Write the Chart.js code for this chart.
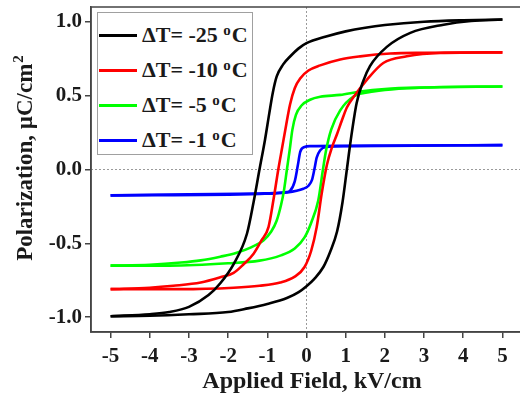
<!DOCTYPE html>
<html>
<head>
<meta charset="utf-8">
<script src="https://cdn.jsdelivr.net/npm/chart.js@4.4.0/dist/chart.umd.min.js"></script>
<style>
html, body { margin: 0; padding: 0; background: #fff; overflow: hidden; }
#wrap { position: relative; width: 522px; height: 403px; }
#legend {
    position: absolute; left: 97px; top: 12px; width: 156px; height: 143px;
    box-sizing: border-box; border: 1px solid #a0a0a0; background: #fff;
    font: bold 22px "Liberation Serif", "Times New Roman", serif; color: #1a1a1a;
}
#legend .row { position: absolute; left: 0; height: 30px; display: flex; align-items: center; white-space: nowrap; }
#legend .swatch { width: 38px; height: 3px; margin-left: 1px; margin-right: 5px; }
#legend .deg { font-size: 15px; position: relative; top: -7px; margin-right: 1px; }
</style>
</head>
<body>
<div id="wrap">
    <canvas id="loopChart"></canvas>
    <div id="legend"></div>
</div>
<script>
// axis ticks
const fieldTicks = [-5, -4, -3, -2, -1, 0, 1, 2, 3, 4, 5];
const polTicks = [-1.0, -0.5, 0.0, 0.5, 1.0];

// series labels / colours
const labels = ['\u0394T= -25 ', '\u0394T= -10 ', '\u0394T= -5 ', '\u0394T= -1 '];
const colors = ['#000000', '#ff0000', '#00ff00', '#0000ff'];

// [field kV/cm, polarization uC/cm2]
// "up" = branch coming down from +5 (left side of loop), "down" = branch going up from -5
const dt25Up = [[-5,-0.993],[-4,-0.98],[-3.5,-0.965],[-3,-0.93],[-2.5,-0.85],[-2.2,-0.77],[-1.86,-0.64],[-1.52,-0.435],[-1.35,-0.22],[-1.2,0.0],[-1.06,0.2],[-0.95,0.38],[-0.86,0.52],[-0.76,0.63],[-0.6,0.71],[-0.4,0.77],[-0.2,0.82],[0,0.855],[0.5,0.9],[1.0,0.935],[1.5,0.96],[2,0.978],[3,1.0],[4,1.01],[5,1.015]];
const dt25Down = [[-5,-0.993],[-4,-0.99],[-3,-0.98],[-2,-0.965],[-1.5,-0.94],[-1,-0.91],[-0.5,-0.87],[-0.2,-0.83],[0,-0.79],[0.2,-0.74],[0.43,-0.66],[0.6,-0.56],[0.78,-0.42],[0.92,-0.22],[1.03,0.0],[1.13,0.2],[1.28,0.45],[1.45,0.6],[1.62,0.7],[2.05,0.83],[2.65,0.925],[3.5,0.98],[4.2,1.005],[5,1.015]];

const dt10Up = [[-5,-0.81],[-4,-0.8],[-3.4,-0.787],[-2.7,-0.765],[-2.2,-0.73],[-1.86,-0.7],[-1.6,-0.64],[-1.35,-0.57],[-1.15,-0.48],[-0.97,-0.39],[-0.84,-0.2],[-0.72,0.0],[-0.62,0.15],[-0.52,0.3],[-0.42,0.44],[-0.3,0.55],[-0.15,0.62],[0.05,0.67],[0.35,0.705],[0.86,0.745],[1.37,0.766],[2.14,0.785],[3,0.79],[5,0.793]];
const dt10Down = [[-5,-0.81],[-3.2,-0.81],[-1.86,-0.8],[-1.2,-0.787],[-0.67,-0.765],[-0.3,-0.725],[-0.05,-0.66],[0.12,-0.55],[0.26,-0.39],[0.39,-0.16],[0.52,0.03],[0.65,0.15],[0.78,0.24],[0.9,0.33],[1.03,0.42],[1.2,0.49],[1.54,0.607],[1.96,0.721],[2.56,0.766],[3.41,0.789],[5,0.793]];

const dt5Up = [[-5,-0.651],[-4,-0.645],[-3.2,-0.63],[-2.7,-0.615],[-2.2,-0.59],[-1.8,-0.565],[-1.4,-0.525],[-1.1,-0.48],[-0.9,-0.42],[-0.76,-0.345],[-0.65,-0.24],[-0.58,-0.15],[-0.5,0.0],[-0.43,0.13],[-0.36,0.27],[-0.27,0.37],[-0.12,0.435],[0.09,0.472],[0.35,0.492],[0.86,0.505],[1.37,0.528],[2,0.545],[3,0.555],[5,0.562]];
const dt5Down = [[-5,-0.651],[-3.5,-0.651],[-2,-0.635],[-1.2,-0.617],[-0.67,-0.583],[-0.3,-0.535],[-0.05,-0.46],[0.12,-0.36],[0.3,-0.21],[0.42,0.0],[0.5,0.13],[0.63,0.27],[0.86,0.4],[1.2,0.494],[1.71,0.528],[3.41,0.558],[5,0.562]];

const dt1Up = [[-5,-0.175],[-3,-0.168],[-1.2,-0.162],[-0.84,-0.16],[-0.5,-0.153],[-0.42,-0.145],[-0.3,-0.08],[-0.22,0.03],[-0.16,0.12],[-0.05,0.152],[0.1,0.158],[2,0.162],[5,0.165]];
const dt1Down = [[-5,-0.175],[-1.2,-0.165],[-0.5,-0.155],[-0.08,-0.13],[0.05,-0.11],[0.14,-0.07],[0.2,0.0],[0.26,0.08],[0.35,0.13],[0.5,0.152],[1,0.157],[5,0.165]];

const branches = [[dt25Up, dt25Down], [dt10Up, dt10Down], [dt5Up, dt5Down], [dt1Up, dt1Down]];

const serif = '"Liberation Serif", "Times New Roman", serif';

const datasets = [];
branches.forEach((pair, i) => {
    pair.forEach((pts, j) => {
        datasets.push({
            label: labels[i],
            legendRow: j === 0,
            data: pts.map(p => ({ x: p[0], y: p[1] })),
            borderColor: colors[i],
            borderWidth: 2.6,
            showLine: true,
            pointRadius: 0,
            cubicInterpolationMode: 'monotone',
            order: i
        });
    });
});

// dotted zero lines, frame box and axis titles
const framePlugin = {
    id: 'framePlugin',
    beforeDatasetsDraw(chart) {
        const { ctx, chartArea: a, scales } = chart;
        const x0 = scales.x.getPixelForValue(0);
        const y0 = scales.y.getPixelForValue(0);
        ctx.save();
        ctx.strokeStyle = '#9a9a9a';
        ctx.lineWidth = 1;
        ctx.setLineDash([2, 2]);
        ctx.beginPath();
        ctx.moveTo(x0, a.top); ctx.lineTo(x0, a.bottom);
        ctx.moveTo(a.left, y0); ctx.lineTo(a.right, y0);
        ctx.stroke();
        ctx.restore();
    },
    afterDraw(chart) {
        const { ctx, chartArea: a } = chart;
        ctx.save();
        ctx.strokeStyle = '#444';
        ctx.lineWidth = 1.5;
        ctx.strokeRect(a.left, a.top, a.right - a.left, a.bottom - a.top);

        ctx.fillStyle = '#1a1a1a';
        ctx.textBaseline = 'alphabetic';
        ctx.textAlign = 'center';
        ctx.font = 'bold 24px ' + serif;
        ctx.fillText('Applied Field, kV/cm', 312, 388);

        // y title with superscript 2
        const main = 'Polarization, \u00b5C/cm';
        ctx.font = 'bold 23px ' + serif;
        const w1 = ctx.measureText(main).width;
        ctx.font = 'bold 15px ' + serif;
        const w2 = ctx.measureText('2').width;
        ctx.translate(31.5, 158.5);
        ctx.rotate(-Math.PI / 2);
        ctx.textAlign = 'left';
        const start = -(w1 + w2) / 2;
        ctx.font = 'bold 23px ' + serif;
        ctx.fillText(main, start, 0);
        ctx.font = 'bold 15px ' + serif;
        ctx.fillText('2', start + w1 + 1, -9);
        ctx.restore();
    }
};

const ctx = document.getElementById('loopChart').getContext('2d');
const chart = new Chart(ctx, {
    type: 'scatter',
    data: { datasets: datasets },
    options: {
        responsive: true,
        maintainAspectRatio: false,
        animation: false,
        layout: { padding: { top: 7, right: 0, bottom: 0, left: 0 } },
        plugins: {
            legend: { display: false },
            tooltip: { enabled: false }
        },
        scales: {
            x: {
                type: 'linear',
                min: -5.5,
                max: 5.5,
                afterBuildTicks: s => { s.ticks = fieldTicks.map(v => ({ value: v })); },
                afterFit: s => { s.height = 71; s.paddingLeft = 0; s.paddingRight = 0; },
                grid: { drawOnChartArea: false, drawTicks: true, tickLength: 6, color: '#444', lineWidth: 1.5 },
                border: { color: '#444', width: 1.5 },
                ticks: {
                    padding: 6,
                    maxRotation: 0,
                    autoSkip: false,
                    color: '#1a1a1a',
                    font: { family: serif, size: 21, weight: 'bold' },
                    callback: v => String(v)
                }
            },
            y: {
                type: 'linear',
                min: -1.1,
                max: 1.1,
                afterBuildTicks: s => { s.ticks = polTicks.map(v => ({ value: v })); },
                afterFit: s => { s.width = 91; s.paddingTop = 0; s.paddingBottom = 0; },
                grid: { drawOnChartArea: false, drawTicks: true, tickLength: 6, color: '#444', lineWidth: 1.5 },
                border: { color: '#444', width: 1.5 },
                ticks: {
                    padding: 3,
                    autoSkip: false,
                    color: '#1a1a1a',
                    font: { family: serif, size: 21, weight: 'bold' },
                    callback: v => Number(v).toFixed(1)
                }
            }
        }
    },
    plugins: [framePlugin]
});

// legend box, built from the datasets
const legend = document.getElementById('legend');
chart.data.datasets.filter(d => d.legendRow).forEach((d, i) => {
    const row = document.createElement('div');
    row.className = 'row';
    row.style.top = (7 + i * 35) + 'px';
    const sw = document.createElement('span');
    sw.className = 'swatch';
    sw.style.background = d.borderColor;
    const txt = document.createElement('span');
    txt.innerHTML = d.label + '<span class="deg">o</span>C';
    row.appendChild(sw);
    row.appendChild(txt);
    legend.appendChild(row);
});
</script>
</body>
</html>
